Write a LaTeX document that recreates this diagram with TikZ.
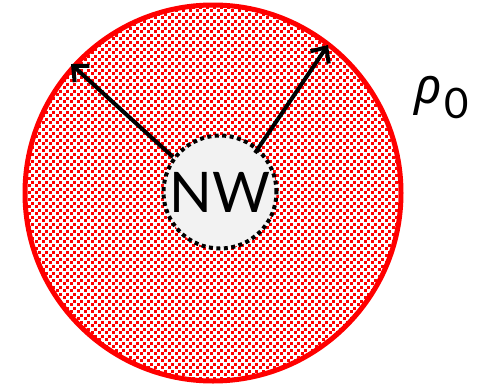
\documentclass[tikz,border=0pt]{standalone}
\usepackage{fontspec}
\setsansfont{Lato}
\newfontfamily\gkfont{Noto Sans}
\usetikzlibrary{patterns,arrows.meta}
\pgfdeclarepatternformonly{redsq}{\pgfpointorigin}{\pgfqpoint{7pt}{7pt}}{\pgfqpoint{7pt}{7pt}}{%
  \pgfpathrectangle{\pgfpointorigin}{\pgfqpoint{3.2pt}{3.2pt}}%
  \pgfpathrectangle{\pgfqpoint{3.5pt}{3.5pt}}{\pgfqpoint{3.2pt}{3.2pt}}%
  \pgfusepath{fill}}
\tikzset{
  shell/.style={circle, minimum size=376pt, inner sep=0pt, draw=red, line width=5pt, pattern=redsq, pattern color=red},
  core/.style={circle, minimum size=113pt, inner sep=0pt, draw=black, fill=gray!10, line width=4pt, dash pattern=on 4pt off 3.5pt},
  ray/.style={line width=4pt, -{Straight Barb[length=12pt,width=22pt,line width=4pt]}}
}
\begin{document}
\begin{tikzpicture}[x=1pt,y=1pt]
\useasboundingbox (0,0) rectangle (490,-389);
\node[shell] (big) at (213,-193) {};
\node[core] (nw) at (220,-192) {};
\node[font=\sffamily\fontsize{56}{60}\selectfont] (nwt) at (220,-192) {NW};
\coordinate (t1) at (71,-64);
\coordinate (t2) at (328,-45);
\coordinate (s1) at (173,-157);
\coordinate (s2) at (255,-153);
\draw[ray] (s1) -- (t1);
\draw[ray] (s2) -- (t2);
\node[inner sep=0pt, anchor=base west] (rho) at (414,-103) {{\gkfont\itshape\fontsize{50}{60}\selectfont ρ}\hspace{3pt}\raisebox{-15pt}{\sffamily\fontsize{42}{50}\selectfont 0}};
\end{tikzpicture}
\end{document}
